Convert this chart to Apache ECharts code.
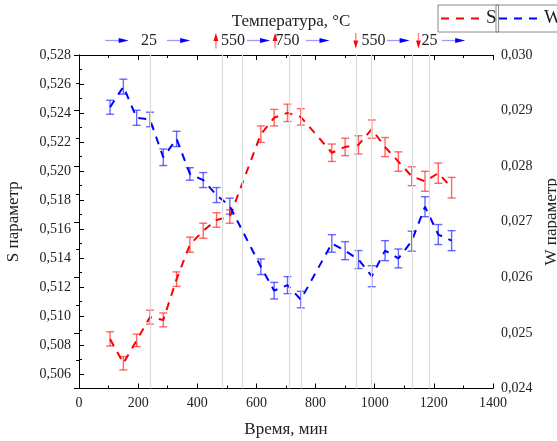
<!DOCTYPE html>
<html><head><meta charset="utf-8">
<script src="https://cdn.jsdelivr.net/npm/echarts@6/dist/echarts.min.js"></script>
<style>html,body{margin:0;padding:0;background:#fff}#c{width:557px;height:441px}</style>
</head><body><div id="c"></div>
<script>
const timeMin = [105,150,195,240,285,330,375,420,465,510,615,660,705,750,855,900,945,990,1035,1080,1125,1170,1215,1260];
const sValues = [0.50842,0.50674,0.50832,0.50992,0.50973,0.51254,0.51492,0.51588,0.51662,0.51686,0.52254,0.52368,0.52401,0.52373,0.52126,0.52166,0.52180,0.52289,0.52165,0.52065,0.51964,0.51929,0.51985,0.51885];
const sErrors = [0.00049,0.00046,0.00043,0.00048,0.00048,0.0005,0.00052,0.00052,0.0005,0.00046,0.00057,0.00057,0.0006,0.00057,0.0006,0.0006,0.00063,0.00063,0.00066,0.00067,0.00065,0.00069,0.0007,0.00071];
const wValues = [0.02906,0.02943,0.02887,0.02884,0.02816,0.02849,0.02786,0.02775,0.02748,0.02728,0.02619,0.02576,0.02586,0.02560,0.02661,0.02648,0.02632,0.02602,0.02648,0.02634,0.02665,0.02727,0.02677,0.02666];
const wErrors = [0.000126,0.000135,0.000135,0.000131,0.000149,0.000138,0.000113,0.000135,0.000135,0.000144,0.00014,0.000149,0.000153,0.000149,0.000158,0.000162,0.000162,0.000189,0.00018,0.00017,0.00018,0.00018,0.00018,0.00018];
const guideLines = [240,485,553,710,753,937,989,1126,1184];
const sLabelTicks = [0.506,0.508,0.510,0.512,0.514,0.516,0.518,0.520,0.522,0.524,0.526,0.528];
const sMinorTicks = [0.505,0.507,0.509,0.511,0.513,0.515,0.517,0.519,0.521,0.523,0.525,0.527];
const tempLabels = [[237,'25'],[521,'550'],[705,'750'],[996,'550'],[1185,'25']];
const tempArrowsUp = [463,663];
const tempArrowsDown = [936,1148];
const flowArrows = [[89,168],[297,376],[568,646],[768,847],[1041,1118],[1227,1306]];

const FONT = '"Liberation Serif", "Times New Roman", serif';
const fmt = v => v.toFixed(3).replace('.', ',');
const chart = echarts.init(document.getElementById('c'));

function errSeries(vals, errs, color, yIdx) {
  return {
    type: 'custom', yAxisIndex: yIdx, z: 3, silent: true,
    data: timeMin.map((t,i)=>[t, vals[i], errs[i]]),
    renderItem: function(params, api){
      const x = api.value(0), y = api.value(1), e = api.value(2);
      const top = api.coord([x, y+e]), bot = api.coord([x, y-e]);
      const hw = 4;
      const st = {stroke: color, lineWidth: 1.4};
      return {type:'group', children:[
        {type:'line', shape:{x1:top[0],y1:top[1],x2:bot[0],y2:bot[1]}, style:st},
        {type:'line', shape:{x1:top[0]-hw,y1:top[1],x2:top[0]+hw,y2:top[1]}, style:st},
        {type:'line', shape:{x1:bot[0]-hw,y1:bot[1],x2:bot[0]+hw,y2:bot[1]}, style:st}
      ]};
    }
  };
}
const ROWY = 40.5;
const annSeries = [
  { type:'custom', silent:true, clip:false, z:5, data: flowArrows,
    renderItem: function(p, api){
      const a = api.coord([api.value(0), 0.505])[0], b = api.coord([api.value(1), 0.505])[0];
      return {type:'group', children:[
        {type:'line', shape:{x1:a,y1:ROWY,x2:b-8,y2:ROWY}, style:{stroke:'#9a9aff', lineWidth:1.3}},
        {type:'polygon', shape:{points:[[b,ROWY],[b-10,ROWY-2.6],[b-10,ROWY+2.6]]}, style:{fill:'#0000ff'}}
      ]};
    }},
  { type:'custom', silent:true, clip:false, z:5, data: tempArrowsUp.map(v=>[v,1]).concat(tempArrowsDown.map(v=>[v,-1])),
    renderItem: function(p, api){
      const x = api.coord([api.value(0), 0.505])[0], d = api.value(1);
      const yt = 33, yb = 48.5;
      const tip = d>0 ? yt : yb, base = d>0 ? yt+8 : yb-8;
      const tail = d>0 ? yb : yt;
      return {type:'group', children:[
        {type:'line', shape:{x1:x,y1:tail,x2:x,y2:base}, style:{stroke:'#ff7a7a', lineWidth:1.3}},
        {type:'polygon', shape:{points:[[x,tip],[x-2.4,base],[x+2.4,base]]}, style:{fill:'#ff0000'}}
      ]};
    }},
  { type:'custom', silent:true, clip:false, z:5, data: tempLabels,
    renderItem: function(p, api){
      const x = api.coord([api.value(0), 0.505])[0];
      return {type:'text', style:{x:x, y:ROWY, text: tempLabels[p.dataIndex][1], fill:'#222', font:'16px ' + FONT, align:'center', verticalAlign:'middle'}};
    }}
];

const axisLab = {fontFamily: FONT, fontSize: 14, color:'#222'};
const legendCommon = {top:5, itemWidth:40, itemHeight:14, borderColor:'#888', borderWidth:1,
  textStyle:{fontFamily:FONT, fontSize:19, color:'#222'}, selectedMode:false,
  itemStyle:{color:'transparent', borderColor:'transparent', borderWidth:0}};
chart.setOption({
  animation:false,
  textStyle:{fontFamily:FONT},
  title:{text:'Температура, °C', left:286, textAlign:'center', top:8, textStyle:{fontFamily:FONT, fontSize:17, fontWeight:'normal', color:'#222'}},
  legend:[
    Object.assign({data:['S'], left:438, padding:[4,2,4,2]}, legendCommon),
    Object.assign({data:['W'], left:496, padding:[4,4,4,2]}, legendCommon)
  ],
  grid:{left:79, right:64, top:55, bottom:52.5, containLabel:false, outerBoundsMode:'none'},
  xAxis:[
    {type:'value', min:0, max:1400, interval:200, name:'Время, мин', nameLocation:'middle', nameGap:33,
     nameTextStyle:{fontFamily:FONT, fontSize:17, color:'#222'},
     axisLine:{lineStyle:{color:'#000', width:1}}, axisTick:{inside:true, length:5, lineStyle:{color:'#000'}},
     minorTick:{show:true, splitNumber:2, length:3, lineStyle:{color:'#000'}},
     axisLabel:Object.assign({margin:8, formatter: v => String(v)}, axisLab), splitLine:{show:false}},
    {type:'value', position:'top', min:0, max:1400, interval:200,
     axisLine:{lineStyle:{color:'#000', width:1}}, axisTick:{inside:true, length:5, lineStyle:{color:'#000'}},
     minorTick:{show:true, splitNumber:2, length:3, lineStyle:{color:'#000'}},
     axisLabel:{show:false}, splitLine:{show:false}}
  ],
  yAxis:[
    {type:'value', min:0.505, max:0.528, position:'left', name:'S параметр', nameLocation:'middle', nameGap:57, nameRotate:90,
     nameTextStyle:{fontFamily:FONT, fontSize:17, color:'#222'},
     axisLine:{show:true, lineStyle:{color:'#000', width:1}},
     axisTick:{inside:true, length:5, customValues:sLabelTicks, lineStyle:{color:'#000'}},
     axisLabel:Object.assign({customValues:sLabelTicks, formatter:fmt, margin:8}, axisLab), splitLine:{show:false}},
    {type:'value', min:0.024, max:0.030, interval:0.001, position:'right', name:'W параметр', nameLocation:'middle', nameGap:40, nameRotate:90,
     nameTextStyle:{fontFamily:FONT, fontSize:17, color:'#222'},
     axisLine:{show:true, lineStyle:{color:'#000', width:1}},
     axisTick:{inside:true, length:5, lineStyle:{color:'#000'}},
     minorTick:{show:true, splitNumber:2, length:3, lineStyle:{color:'#000'}},
     axisLabel:Object.assign({formatter:fmt, margin:8}, axisLab), splitLine:{show:false}},
    {type:'value', min:0.505, max:0.528, position:'left',
     axisLine:{show:false}, axisTick:{show:true, inside:true, length:3, customValues:sMinorTicks, lineStyle:{color:'#000'}},
     axisLabel:{show:false}, splitLine:{show:false}}
  ],
  series:[
    {type:'line', name:'guides', data:[], silent:true, z:1,
     markLine:{silent:true, symbol:'none', label:{show:false}, lineStyle:{color:'#dcdcdc', type:'solid', width:1.2},
       data: guideLines.map(v=>({xAxis:v}))}},
    {type:'line', name:'S', data: timeMin.map((t,i)=>[t, sValues[i]]), yAxisIndex:0, symbol:'none', z:4,
     lineStyle:{color:'#ff0000', width:2, type:[8,7]}, itemStyle:{color:'#ff0000'}},
    {type:'line', name:'W', data: timeMin.map((t,i)=>[t, wValues[i]]), yAxisIndex:1, symbol:'none', z:4,
     lineStyle:{color:'#0000ff', width:2, type:[8,7]}, itemStyle:{color:'#0000ff'}},
    errSeries(sValues, sErrors, 'rgba(255,40,40,0.7)', 0),
    errSeries(wValues, wErrors, 'rgba(40,40,255,0.7)', 1)
  ].concat(annSeries)
});
</script></body></html>
